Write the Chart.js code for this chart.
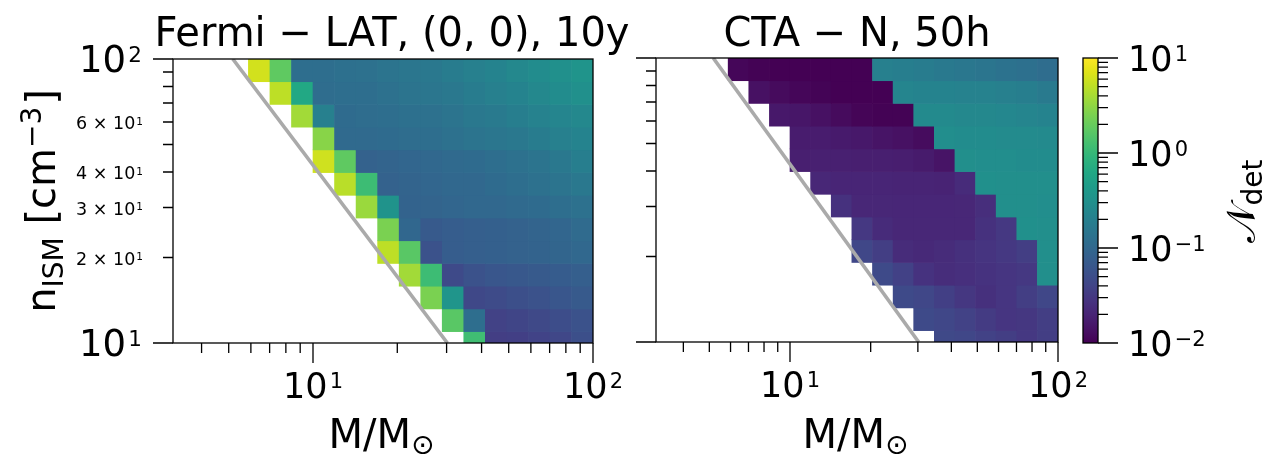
<!DOCTYPE html>
<html><head><meta charset="utf-8">
<script src="https://cdn.jsdelivr.net/npm/chart.js@4.4.1/dist/chart.umd.min.js"></script>
<style>
html,body{margin:0;padding:0;background:#fff;}
#wrap{position:relative;width:1267px;height:454px;overflow:hidden;background:#fff;}
canvas{position:absolute;left:0;top:0;}
</style></head><body>
<div id="wrap">
<canvas id="c1" width="1267" height="454"></canvas>
<canvas id="c2" width="1267" height="454"></canvas>
<canvas id="c3" width="1267" height="454"></canvas>
</div>
<script>
// ---------- data ----------
// mass bin centres (M/Msun), 13 bins per decade
const massCenters = [6.423, 7.668, 9.154, 10.926, 13.044, 15.572, 18.591, 22.195, 26.497, 31.623, 37.754, 45.072, 53.809, 64.229, 76.680, 91.544];
// density bin edges (cm^-3), bottom to top
const densityEdges = [10, 10.965, 13.183, 15.849, 19.055, 22.909, 27.542, 33.113, 39.811, 47.863, 57.544, 69.183, 83.176, 100];

// N_det, Fermi-LAT panel: rows from top (n~91) to bottom (n~10), columns follow massCenters
const fermiRows = [
  [6.2, 1.8, 0.12, 0.12, 0.125, 0.13, 0.14, 0.15, 0.16, 0.18, 0.2, 0.22, 0.25, 0.28, 0.31, 0.35],
  [null, 5.0, 0.63, 0.115, 0.12, 0.12, 0.13, 0.14, 0.15, 0.16, 0.18, 0.2, 0.22, 0.25, 0.28, 0.31],
  [null, null, 3.8, 0.2, 0.11, 0.115, 0.12, 0.125, 0.13, 0.14, 0.16, 0.17, 0.19, 0.21, 0.23, 0.25],
  [null, null, null, 2.9, 0.105, 0.105, 0.11, 0.115, 0.12, 0.13, 0.14, 0.15, 0.16, 0.18, 0.2, 0.22],
  [null, null, null, 6.0, 1.8, 0.085, 0.09, 0.095, 0.1, 0.105, 0.11, 0.12, 0.13, 0.14, 0.16, 0.19],
  [null, null, null, null, 4.8, 1.13, 0.085, 0.09, 0.095, 0.1, 0.1, 0.11, 0.12, 0.13, 0.14, 0.16],
  [null, null, null, null, null, 3.5, 0.34, 0.088, 0.09, 0.095, 0.1, 0.1, 0.105, 0.11, 0.12, 0.13],
  [null, null, null, null, null, null, 2.5, 0.098, 0.07, 0.075, 0.08, 0.082, 0.085, 0.09, 0.095, 0.108],
  [null, null, null, null, null, null, 5.0, 1.66, 0.056, 0.075, 0.08, 0.082, 0.085, 0.088, 0.092, 0.1],
  [null, null, null, null, null, null, null, 3.8, 1.13, 0.046, 0.056, 0.062, 0.066, 0.07, 0.073, 0.079],
  [null, null, null, null, null, null, null, null, 2.5, 0.36, 0.044, 0.047, 0.052, 0.056, 0.062, 0.069],
  [null, null, null, null, null, null, null, null, null, 1.66, 0.12, 0.038, 0.041, 0.045, 0.05, 0.056],
  [null, null, null, null, null, null, null, null, null, null, 1.17, 0.035, 0.036, 0.039, 0.043, 0.052]
];

// N_det, CTA-N panel: rows from top to bottom
const ctaRows = [
  [0.011, 0.0103, 0.01, 0.01, 0.01, 0.01, 0.01, 0.2, 0.19, 0.18, 0.165, 0.155, 0.145, 0.135, 0.125, 0.115],
  [null, 0.0135, 0.012, 0.011, 0.0105, 0.01, 0.01, 0.01, 0.23, 0.22, 0.22, 0.21, 0.21, 0.2, 0.19, 0.17],
  [null, null, 0.0157, 0.015, 0.0135, 0.012, 0.0107, 0.0103, 0.0103, 0.26, 0.26, 0.25, 0.25, 0.24, 0.23, 0.22],
  [null, null, null, 0.017, 0.017, 0.0163, 0.0157, 0.0145, 0.0135, 0.0123, 0.29, 0.28, 0.28, 0.27, 0.27, 0.26],
  [null, null, null, 0.018, 0.0185, 0.0185, 0.018, 0.018, 0.0175, 0.0165, 0.0145, 0.3, 0.29, 0.29, 0.28, 0.28],
  [null, null, null, null, 0.0214, 0.0205, 0.0205, 0.0205, 0.02, 0.02, 0.0195, 0.023, 0.31, 0.3, 0.3, 0.3],
  [null, null, null, null, null, 0.0263, 0.0214, 0.0214, 0.021, 0.021, 0.021, 0.0214, 0.0246, 0.3, 0.3, 0.29],
  [null, null, null, null, null, null, 0.031, 0.023, 0.0214, 0.0214, 0.0214, 0.0214, 0.0263, 0.031, 0.31, 0.3],
  [null, null, null, null, null, null, 0.043, 0.035, 0.0235, 0.022, 0.0235, 0.026, 0.028, 0.031, 0.035, 0.3],
  [null, null, null, null, null, null, null, 0.046, 0.037, 0.027, 0.024, 0.0255, 0.027, 0.029, 0.031, 0.3],
  [null, null, null, null, null, null, null, null, 0.046, 0.043, 0.036, 0.03, 0.026, 0.029, 0.035, 0.043],
  [null, null, null, null, null, null, null, null, null, 0.046, 0.043, 0.038, 0.033, 0.029, 0.03, 0.035],
  [null, null, null, null, null, null, null, null, null, null, 0.045, 0.043, 0.038, 0.035, 0.031, 0.035]
];

// grey boundary line (two end points)
const boundaryM = [5.17, 30.2];
const boundaryN = [100, 10];

// axis ranges and ticks
const xRange = [3.1623, 100];
const yRange = [10, 100];
const cbRange = [0.01, 10];
const xTickMajor = [10, 100];
const xTickMinor = [4, 5, 6, 7, 8, 9, 20, 30, 40, 50, 60, 70, 80, 90];
const yTickMajor = [10, 100];
const yTickMinor = [20, 30, 40, 50, 60, 70, 80, 90];
const yMinorLabelled = [20, 30, 40, 60];
const cbTickMajor = [0.01, 0.1, 1, 10];
const cbTickMinor = [0.02, 0.03, 0.04, 0.05, 0.06, 0.07, 0.08, 0.09, 0.2, 0.3, 0.4, 0.5, 0.6, 0.7, 0.8, 0.9, 2, 3, 4, 5, 6, 7, 8, 9];

const titleLeft = 'Fermi − LAT, (0, 0), 10y';
const titleRight = 'CTA − N, 50h';

// ---------- colormap ----------
const viridis = ['#440154','#471365','#482475','#463480','#414487','#3b528b','#355f8d','#2f6c8e','#2a788e','#25848e','#21918c','#1e9c89','#22a884','#2fb47c','#44bf70','#5ec962','#7ad151','#9bd93c','#bddf26','#dfe318','#fde725'];
function hex2rgb(h){return [parseInt(h.substr(1,2),16),parseInt(h.substr(3,2),16),parseInt(h.substr(5,2),16)];}
const viridisRGB = viridis.map(hex2rgb);
function viridisLog(v){
  let t = (Math.log10(v) - Math.log10(cbRange[0])) / (Math.log10(cbRange[1]) - Math.log10(cbRange[0]));
  t = Math.max(0, Math.min(1, t));
  const f = t * (viridisRGB.length - 1);
  const i = Math.min(viridisRGB.length - 2, Math.floor(f));
  const u = f - i;
  const a = viridisRGB[i], b = viridisRGB[i+1];
  const c = a.map((x,k)=>Math.round(x + (b[k]-x)*u));
  return 'rgb(' + c.join(',') + ')';
}

// ---------- text helpers ----------
const FONT = '"DejaVu Sans", sans-serif';
function font(s){ return s + 'px ' + FONT; }
function drawParts(ctx, parts, x, y, align){
  let total = 0;
  parts.forEach(p=>{ ctx.font = font(p.s); p.w = ctx.measureText(p.t).width + (p.gap||0); total += p.w; });
  let cx = align === 'center' ? x - total/2 : (align === 'right' ? x - total : x);
  ctx.textAlign = 'left'; ctx.textBaseline = 'alphabetic';
  parts.forEach(p=>{ ctx.font = font(p.s); ctx.fillText(p.t, cx + (p.gap||0), y + (p.dy||0)); cx += p.w; });
}
function expStr(e){ return e < 0 ? '−' + Math.abs(e) : String(e); }
function powParts(v, s, supRatio, withMant){
  const e = Math.floor(Math.log10(v) + 1e-9);
  const m = Math.round(v / Math.pow(10, e));
  const ss = s * supRatio;
  const base = withMant ? (m + ' × 10') : '10';
  return [{t: base, s: s}, {t: expStr(e), s: ss, dy: -(0.729*s - 0.729*ss) + 0.5, gap: s*0.06}];
}

// ---------- decorations ----------
function drawPanel(chart, o){
  const ctx = chart.ctx, a = chart.chartArea, xs = chart.scales.x, ys = chart.scales.y;
  ctx.save();
  ctx.strokeStyle = '#000'; ctx.fillStyle = '#000'; ctx.lineWidth = 1.3;
  ctx.strokeRect(a.left, a.top, a.right - a.left, a.bottom - a.top);
  ctx.beginPath();
  xTickMajor.forEach(v=>{ const p = xs.getPixelForValue(v); ctx.moveTo(p, a.bottom); ctx.lineTo(p, a.bottom + 20); });
  xTickMinor.forEach(v=>{ const p = xs.getPixelForValue(v); ctx.moveTo(p, a.bottom); ctx.lineTo(p, a.bottom + 10); });
  yTickMajor.forEach(v=>{ const p = ys.getPixelForValue(v); ctx.moveTo(a.left, p); ctx.lineTo(a.left - 20, p); });
  yTickMinor.forEach(v=>{ const p = ys.getPixelForValue(v); ctx.moveTo(a.left, p); ctx.lineTo(a.left - 10, p); });
  ctx.stroke();
  // x tick labels
  xTickMajor.forEach(v=>{ drawParts(ctx, powParts(v, 35, 0.6, false), xs.getPixelForValue(v), a.bottom + 55, 'center'); });
  if (o.yLabels){
    yTickMajor.forEach(v=>{ const p = ys.getPixelForValue(v); drawParts(ctx, powParts(v, 37, 0.58, false), a.left - 31, p + 0.3645*37, 'right'); });
    yMinorLabelled.forEach(v=>{ const p = ys.getPixelForValue(v); drawParts(ctx, powParts(v, 17.5, 0.6, true), a.left - 30, p + 0.3645*17.5 + 1, 'right'); });
    // y axis label
    ctx.save();
    ctx.translate(55, 201);
    ctx.rotate(-Math.PI/2);
    drawParts(ctx, [{t:'n', s:40}, {t:'ISM', s:28, dy:8}, {t:' [cm', s:40}, {t:'−3', s:28, dy:-14}, {t:']', s:40, gap:2}], 0, 0, 'center');
    ctx.restore();
  }
  // title
  ctx.font = font(40); ctx.textAlign = 'center'; ctx.textBaseline = 'alphabetic';
  ctx.fillText(o.title, o.titleX, 46);
  // x label
  drawParts(ctx, [{t:'M/M', s:40}, {t:'⊙', s:28, dy:6}], (a.left + a.right)/2 - 1.5, 448, 'center');
  ctx.restore();
}

function drawColorbar(chart){
  const ctx = chart.ctx, a = chart.chartArea, ys = chart.scales.y;
  ctx.save();
  ctx.strokeStyle = '#000'; ctx.fillStyle = '#000'; ctx.lineWidth = 1.3;
  ctx.strokeRect(a.left, a.top, a.right - a.left, a.bottom - a.top);
  ctx.beginPath();
  cbTickMajor.forEach(v=>{ const p = ys.getPixelForValue(v); ctx.moveTo(a.right, p); ctx.lineTo(a.right + 20, p); });
  cbTickMinor.forEach(v=>{ const p = ys.getPixelForValue(v); ctx.moveTo(a.right, p); ctx.lineTo(a.right + 10, p); });
  ctx.stroke();
  cbTickMajor.forEach(v=>{ const p = ys.getPixelForValue(v); drawParts(ctx, powParts(v, 35, 0.6, false), a.right + 30, p + 0.3645*35, 'left'); });
  ctx.save();
  ctx.translate(1255, 201.5);
  ctx.rotate(-Math.PI/2);
  drawParts(ctx, [{t:'𝒩', s:40}, {t:'det', s:28, dy:7}], 0, 0, 'center');
  ctx.restore();
  ctx.restore();
}

// ---------- charts ----------
function heatChart(id, rows, pad, deco){
  const nRows = rows.length;
  const datasets = rows.map((row, i)=>{
    const r = nRows - 1 - i; // index from bottom
    return {
      type: 'bar',
      data: massCenters.map((m, k)=> row[k] == null ? null : {x: m, y: [densityEdges[r], densityEdges[r+1]], v: row[k]}).filter(d=>d),
      backgroundColor: ctx => (ctx.raw && ctx.raw.v != null) ? viridisLog(ctx.raw.v) : 'rgba(0,0,0,0)',
      borderWidth: 0,
      borderSkipped: false,
      barThickness: 'flex',
      categoryPercentage: 1,
      barPercentage: 1,
      stack: 'cells',
      order: 1
    };
  });
  datasets.push({
    type: 'line',
    data: boundaryM.map((m, k)=>({x: m, y: boundaryN[k]})),
    borderColor: '#aaaaaa',
    borderWidth: 3.6,
    pointRadius: 0,
    fill: false,
    tension: 0,
    order: 0
  });
  return new Chart(document.getElementById(id), {
    type: 'bar',
    data: {datasets},
    options: {
      responsive: false, animation: false, events: [],
      layout: {padding: pad},
      plugins: {legend: {display: false}, tooltip: {enabled: false}, title: {display: false}},
      scales: {
        x: {type: 'logarithmic', min: xRange[0], max: xRange[1], display: false, offset: false},
        y: {type: 'logarithmic', min: yRange[0], max: yRange[1], display: false, stacked: false}
      }
    },
    plugins: [{id: 'deco' + id, afterDraw: deco}]
  });
}

heatChart('c1', fermiRows, {left: 173, right: 674, top: 59, bottom: 111},
  chart => drawPanel(chart, {yLabels: true, title: titleLeft, titleX: 392}));
heatChart('c2', ctaRows, {left: 656, right: 209, top: 58, bottom: 112},
  chart => drawPanel(chart, {yLabels: false, title: titleRight, titleX: 857}));

new Chart(document.getElementById('c3'), {
  type: 'bar',
  data: {labels: ['N'], datasets: [{
    data: [[cbRange[0], cbRange[1]]],
    backgroundColor: ctx => {
      const ch = ctx.chart, ys = ch.scales.y;
      if (!ys || !ch.chartArea) return viridis[10];
      const g = ch.ctx.createLinearGradient(0, ys.getPixelForValue(cbRange[0]), 0, ys.getPixelForValue(cbRange[1]));
      viridis.forEach((c, i)=> g.addColorStop(i/(viridis.length-1), c));
      return g;
    },
    borderWidth: 0, categoryPercentage: 1, barPercentage: 1, inflateAmount: 0
  }]},
  options: {
    responsive: false, animation: false, events: [],
    layout: {padding: {left: 1083, right: 169, top: 58, bottom: 111}},
    plugins: {legend: {display: false}, tooltip: {enabled: false}},
    scales: {
      x: {display: false, offset: true},
      y: {type: 'logarithmic', min: cbRange[0], max: cbRange[1], display: false}
    }
  },
  plugins: [{id: 'cbdeco', afterDraw: drawColorbar}]
});
</script>
</body></html>
